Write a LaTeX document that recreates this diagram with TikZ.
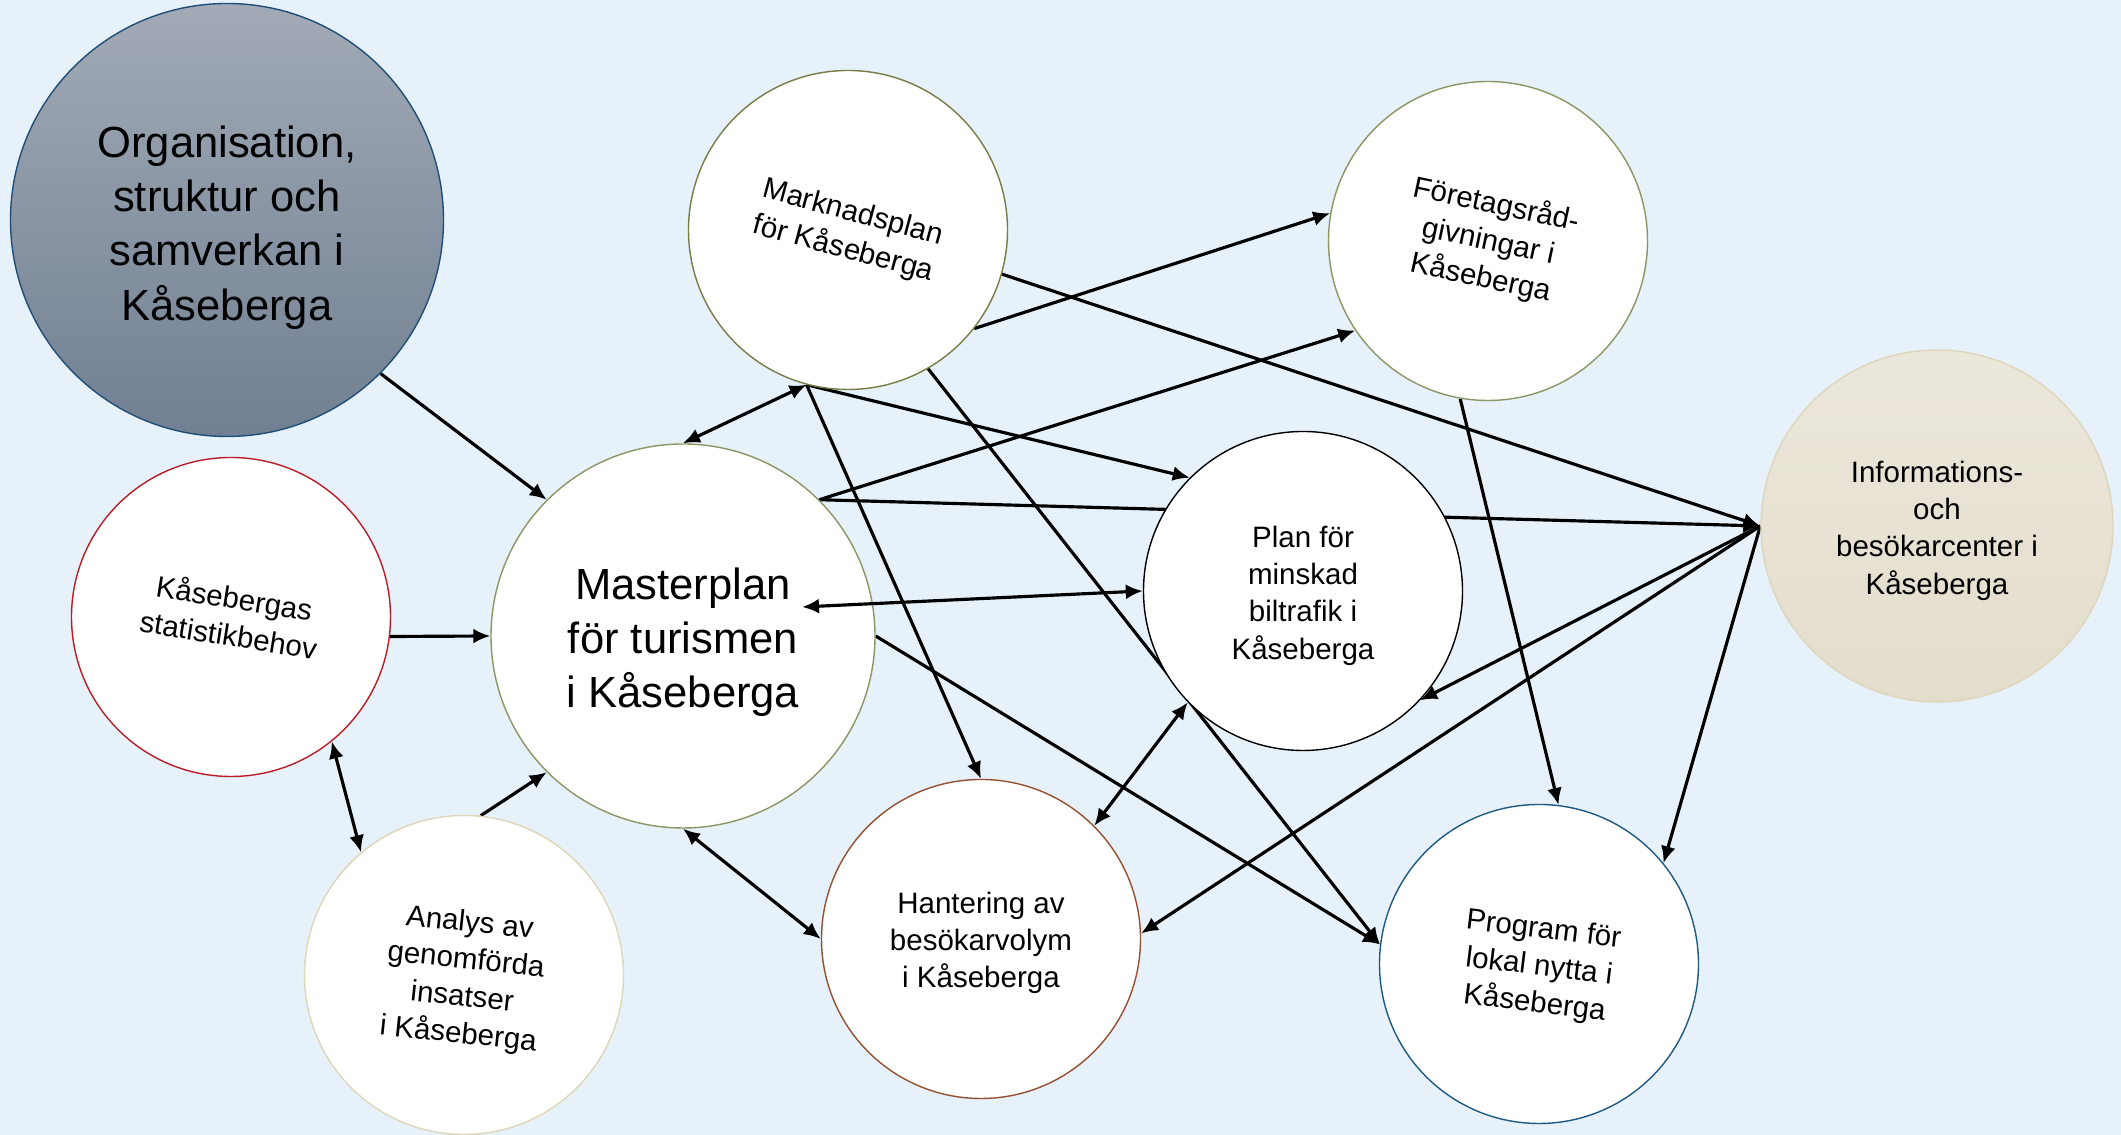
\documentclass[tikz,border=0pt]{standalone}
\usepackage{fontspec}
\usepackage{graphicx}
\setmainfont{Liberation Sans}
\usetikzlibrary{arrows.meta}

\definecolor{bgblue}{RGB}{230,241,250}
\definecolor{orgtop}{RGB}{162,170,182}
\definecolor{orgbot}{RGB}{112,128,146}
\definecolor{orgline}{RGB}{31,78,121}
\definecolor{infotop}{RGB}{235,231,219}
\definecolor{infobot}{RGB}{227,221,203}
\definecolor{infoline}{RGB}{221,214,186}
\definecolor{olive}{RGB}{120,124,70}
\definecolor{sage}{RGB}{140,150,100}
\definecolor{wine}{RGB}{185,30,40}
\definecolor{sand}{RGB}{222,214,184}
\definecolor{rust}{RGB}{150,80,50}
\definecolor{petrol}{RGB}{31,90,130}

\pgfdeclarelayer{back}
\pgfdeclarelayer{edges}
\pgfsetlayers{back,edges,main}

% #1 rotation, #2 drop, #3 lines
\newcommand{\turn}[3]{\raisebox{-#2}[\height][\depth]{\rotatebox{#1}{\begin{tabular}{@{}c@{}}#3\end{tabular}}}}

\begin{document}
\begin{tikzpicture}[>={Latex[length=1.7mm,width=1.5mm]}]
  \tikzstyle{node}=[circle, draw, line width=0.4pt, fill=white, inner sep=0pt,
    minimum size=3.19cm, align=center, font=\fontsize{8.4}{10.6}\selectfont]
  \tikzstyle{big}=[font=\fontsize{12.4}{15.4}\selectfont]
  \tikzstyle{link}=[line width=0.9pt]

  \useasboundingbox (0,0) rectangle (21.21,11.35);
  \begin{pgfonlayer}{back}
    \fill[bgblue] (0,0) rectangle (21.21,11.35);
  \end{pgfonlayer}

  \node[node, big, draw=orgline, top color=orgtop, bottom color=orgbot,
    minimum size=4.33cm] (org) at (2.27, 9.15)
    {\turn{0}{2.3pt}{Organisation,\\struktur och\\samverkan i\\Kåseberga}};
  \node[node, draw=olive] (mark) at (8.48, 9.05)
    {\turn{-15}{0.5pt}{Marknadsplan\\för Kåseberga}};
  \node[node, draw=sage] (fore) at (14.88, 8.94)
    {\turn{-12}{0.5pt}{Företagsråd-\\givningar i\\Kåseberga}};
  \node[node, draw=infoline, top color=infotop, bottom color=infobot,
    minimum size=3.52cm] (info) at (19.37, 6.09)
    {\turn{0}{1.4pt}{Informations-\\och\\besökarcenter i\\Kåseberga}};
  \node[node, draw=wine] (stat) at (2.31, 5.18)
    {\turn{-9}{0.8pt}{Kåsebergas\\statistikbehov}};
  \node[node, big, draw=sage, minimum size=3.84cm] (master) at (6.83, 4.99)
    {\turn{0}{2pt}{Masterplan\\för turismen\\i Kåseberga}};
  \node[node, draw=black] (plan) at (13.03, 5.44)
    {\turn{0}{1.4pt}{Plan för\\minskad\\biltrafik i\\Kåseberga}};
  \node[node, draw=sand] (analys) at (4.64, 1.60)
    {\turn{-6}{1.4pt}{Analys av\\genomförda\\insatser\\i Kåseberga}};
  \node[node, draw=rust] (hant) at (9.81, 1.96)
    {\turn{0}{1.1pt}{Hantering av\\besökarvolym\\i Kåseberga}};
  \node[node, draw=petrol] (prog) at (15.39, 1.71)
    {\turn{-7}{1.1pt}{Program för\\lokal nytta i\\Kåseberga}};

  \coordinate (mtip) at (8.02, 5.28);

  \begin{pgfonlayer}{edges}
    \draw[link, ->]  (org.-45)    -- (master.135);
    \draw[link, ->]  (stat.-7)    -- (master.180);
    \draw[link, <->] (stat.-51)   -- (analys.130);
    \draw[link, ->]  (analys.84)  -- (master.-135);
    \draw[link, <->] (master.90)  -- (mark.-105);
    \draw[link, <->] (master.-90) -- (hant.180);
    \draw[link, ->]  (master.45)  -- (fore.-146);
    \draw[link, ->]  (master.45)  -- (info.180);
    \draw[link, ->]  (master.0)   -- (prog.173);
    \draw[link, ->]  (mark.-38)   -- (fore.170);
    \draw[link, ->]  (mark.-16)   -- (info.180);
    \draw[link, ->]  (mark.-105)  -- (plan.135);
    \draw[link, ->]  (mark.-105)  -- (hant.90);
    \draw[link, ->]  (mark.-60)   -- (prog.173);
    \draw[link, ->]  (fore.-100)  -- (prog.83);
    \draw[link, ->]  (info.180)   -- (plan.-43);
    \draw[link, ->]  (info.180)   -- (hant.2);
    \draw[link, ->]  (info.180)   -- (prog.39);
    \draw[link, <->] (plan.-136)  -- (hant.45);
  \end{pgfonlayer}

  % double arrow that reaches into the masterplan
  \draw[link, <->] (mtip) -- (plan.180);

\end{tikzpicture}
\end{document}
